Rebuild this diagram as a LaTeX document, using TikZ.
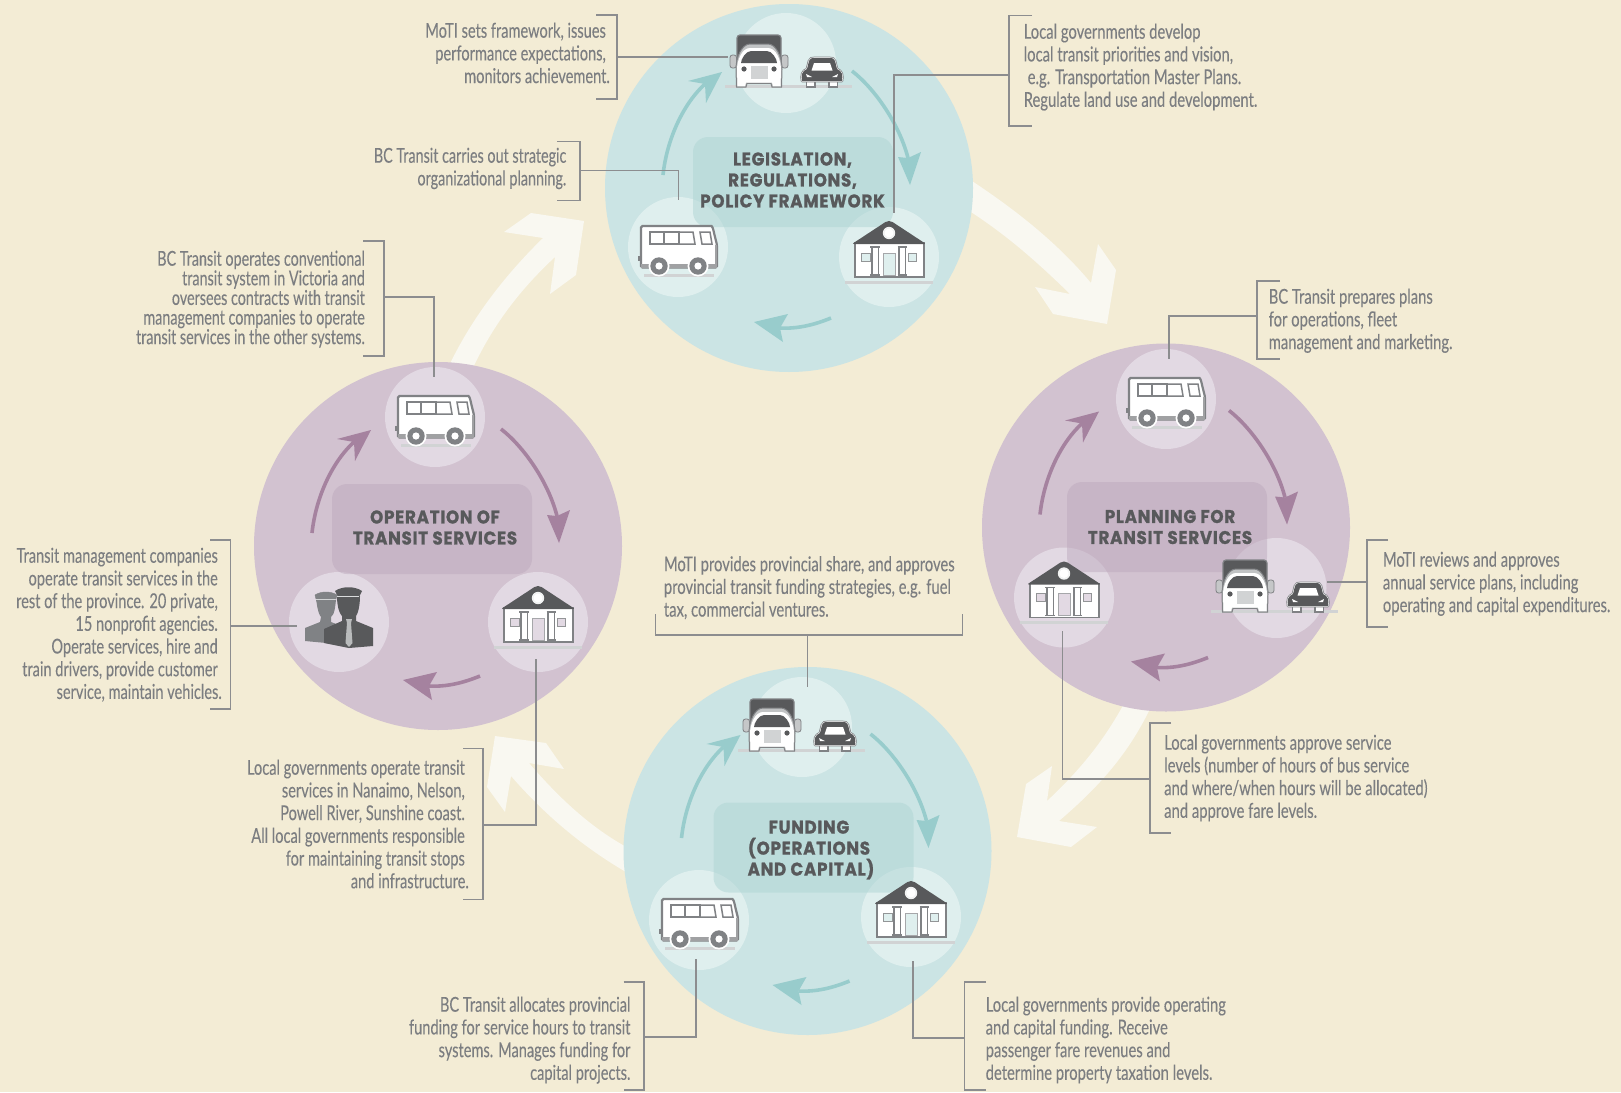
\documentclass[tikz,border=0pt]{standalone}
\usepackage{fontspec}
\setmainfont[FakeStretch=0.722,FakeBold=0.12]{Lato}
\newfontfamily\nrwa[FakeStretch=0.712,FakeBold=0.12]{Lato}
\newfontfamily\nrwb[FakeStretch=0.70,FakeBold=0.12]{Lato}
\newfontfamily\ttlfont[LetterSpace=4,FakeStretch=0.91,BoldFeatures={FakeBold=1.1}]{Poppins}
\definecolor{bg}{HTML}{F3ECD5}
\definecolor{wht}{HTML}{F9F8F1}
\definecolor{tealB}{HTML}{CBE4E4}
\definecolor{tealS}{HTML}{DFEFEE}
\definecolor{tealX}{HTML}{AFD5D4}
\definecolor{tealA}{HTML}{98CCCC}
\definecolor{purB}{HTML}{D2C2D0}
\definecolor{purS}{HTML}{E2D9E3}
\definecolor{purX}{HTML}{BEAABE}
\definecolor{purA}{HTML}{A5829F}
\definecolor{ink}{HTML}{58595B}
\definecolor{mid}{HTML}{808285}
\definecolor{pale}{HTML}{D1D3D4}
\definecolor{txtc}{HTML}{7C7E81}
\definecolor{linec}{HTML}{8C8D8F}
\tikzset{
  x=1pt,y=-1pt,
  big/.style={circle,inner sep=0,minimum size=368pt,fill=#1},
  small/.style={circle,inner sep=0,minimum size=100pt,fill=#1},
  box/.style={rectangle,rounded corners=15pt,inner sep=0,minimum width=200pt,minimum height=90pt,fill=#1,fill opacity=.5},
  ttl/.style={inner sep=0,align=center,text=ink,font=\ttlfont\bfseries\fontsize{18.4}{21}\selectfont},
  rtxt/.style={inner sep=0,anchor=north east,align=right,text=txtc,font=\nrwa\fontsize{20.5}{22.7}\selectfont},
  ltxt/.style={inner sep=0,anchor=north west,align=left,text=txtc,font=\fontsize{20.5}{22.7}\selectfont},
  leader/.style={draw=linec,line width=1.3pt},
  bigarrow/.style={fill=wht},
  pics/cyc/.style={code={
    \draw[line width=3.6pt,draw=#1] (-126,-13) .. controls (-122,-50) and (-105,-85) .. (-84,-104);
    \fill[#1] (-67,-116) -- (-101,-107) -- (-84,-104) -- (-83,-85) -- cycle;
    \draw[line width=3.6pt,draw=#1] (63,-117) .. controls (85,-100) and (110,-65) .. (119,-30);
    \fill[#1] (121,-3) -- (109,-31) -- (119,-30) -- (132,-36) -- cycle;
    \draw[line width=3.6pt,draw=#1] (42,130) .. controls (25,137) and (8,141) .. (-9,140);
    \fill[#1] (-35,134) -- (-1,126) -- (-9,140) -- (-6,154) -- cycle;
  }},
  pics/truck/.style={code={
    \fill[pale] (-34,22) rectangle (93,24.5);
    \filldraw[fill=ink,draw=mid,line width=1.2pt,rounded corners=3pt] (-22,-28) rectangle (22,4);
    \filldraw[fill=pale!85!mid,draw=mid,line width=.8pt,rounded corners=2.5pt] (-29,-8) rectangle (-22.5,5);
    \filldraw[fill=pale!85!mid,draw=mid,line width=.8pt,rounded corners=2.5pt] (22.5,-8) rectangle (29,5);
    \filldraw[fill=pale!80!mid,draw=mid,line width=1pt] (-22.5,24) -- (-23,6) .. controls (-23,-6) and (-17,-19) .. (-9,-19) -- (9,-19) .. controls (17,-19) and (23,-6) .. (23,6) -- (22.5,24) -- (13,24) -- (12,20.5) -- (-12,20.5) -- (-13,24) -- cycle;
    \fill[white] (-21.5,23) -- (-22,7) .. controls (-22,-3) and (-17,-15) .. (-9,-15) -- (9,-15) .. controls (17,-15) and (22,-3) .. (22,7) -- (21.5,23) -- (14,23) -- (13,19.5) -- (-13,19.5) -- (-14,23) -- cycle;
    \fill[ink] (-18,0) .. controls (-18,-4) and (-13,-12) .. (-8,-12) -- (8,-12) .. controls (13,-12) and (18,-4) .. (18,0) -- cycle;
    \fill[ink] (-15,6) circle (2.6) (15,6) circle (2.6);
    \fill[pale] (-8.5,3) rectangle (8.5,15.5);
    \begin{scope}[shift={(63,0)}]
      \filldraw[fill=white,draw=mid,line width=1.4pt] (-15.5,16) rectangle (-7,24);
      \filldraw[fill=white,draw=mid,line width=1.4pt] (7,16) rectangle (15.5,24);
      \def\carpath{(-20,18) .. controls (-21,12) and (-20,8) .. (-15,6) -- (-13,-2) .. controls (-12,-5) and (-10,-5) .. (-8,-5) -- (8,-5) .. controls (10,-5) and (12,-5) .. (13,-2) -- (15,6) .. controls (20,8) and (21,12) .. (20,18) -- cycle}
      \draw[mid,line width=2.6pt,line join=round] \carpath;
      \draw[white,line width=1.1pt,line join=round] \carpath;
      \fill[ink] \carpath;
      \fill[white] (-10.5,7.5) -- (-8,0) -- (8,0) -- (10.5,7.5) -- cycle;
      \fill[white] (-16,11) -- (-10,14) -- (-15,14) -- cycle (16,11) -- (10,14) -- (15,14) -- cycle;
    \end{scope}
  }},
  pics/house/.style={code={
    \fill[pale] (-44,23.5) rectangle (44,26.5);
    \filldraw[fill=white,draw=mid,line width=1.3pt] (-34,-14) rectangle (35,20);
    \fill[ink,rounded corners=2pt] (-37,-13) -- (-2,-36) -- (2,-36) -- (37,-13) -- cycle;
    \fill[white!70!pale] (0,-24) circle (6.2);
    \fill[white] (0,-24) circle (4.5);
    \filldraw[fill=#1,draw=mid!85,line width=1pt] (-28,-4) rectangle (-19,4);
    \filldraw[fill=#1,draw=mid!85,line width=1pt] (19,-4) rectangle (27.5,4);
    \filldraw[fill=white,draw=mid,line width=1.1pt] (-17,-10) rectangle (-10.5,18);
    \filldraw[fill=white,draw=mid,line width=1.1pt] (10,-10) rectangle (16.5,18);
    \draw[mid,line width=1.1pt] (-19,-10) -- (-9,-10) (-19,18) -- (-9,18) (8.5,-10) -- (18,-10) (8.5,18) -- (18,18);
    \filldraw[fill=#1,draw=mid!70,line width=1pt] (-6,-4) rectangle (6,18);
  }},
  pics/bus/.style={code={
    \fill[pale] (-33,27) rectangle (37,29.5);
    \fill[mid] (-39,9) rectangle (-36,14);
    \filldraw[fill=white,draw=mid,line width=2.2pt,rounded corners=1.5pt] (-36,-21) -- (33,-21) .. controls (35,-21) and (36,-19) .. (37,-14) -- (40,-2) -- (40,20.5) -- (-36,20.5) -- cycle;
    \fill[mid!75] (-36,17) rectangle (40,20.5);
    \fill[mid!75] (38,-2) rectangle (40,20);
    \filldraw[fill=white,draw=mid,line width=1.5pt] (-27,-15) rectangle (-13,-3);
    \filldraw[fill=white,draw=mid,line width=1.5pt] (-13,-15) rectangle (2,-3);
    \filldraw[fill=white,draw=mid,line width=1.5pt] (2,-15) -- (16,-15) -- (18,-3) -- (2,-3) -- cycle;
    \filldraw[fill=white,draw=mid,line width=1.5pt] (23,-15) -- (33,-15) -- (35,-3) -- (25,-3) -- cycle;
    \fill[white] (-18,19) circle (10.5) (21,19) circle (10.5);
    \fill[mid] (-18,19) circle (8.7) (21,19) circle (8.7);
    \fill[white] (-18,19) circle (3.6) (21,19) circle (3.6);
  }},
  pics/drivers/.style={code={
    \fill[mid] (-34,19) -- (-34,6) -- (-19,0) -- (-18,-5) .. controls (-22,-10) and (-22,-20) .. (-23,-22) -- (-3,-22) .. controls (-4,-15) and (-4,-8) .. (-8,-5) -- (-8,0) -- (0,3) -- (-2,22) -- cycle;
    \filldraw[mid] (-24,-27) .. controls (-18,-31) and (-8,-31) .. (-2,-27) -- (-3,-23) -- (-23,-23) -- cycle;
    \draw[pale,line width=.8pt] (-23,-23) -- (-4,-23);
    \fill[ink] (-15,21) -- (-15,7) -- (3,-1) -- (3,-6) .. controls (-1,-10) and (-2,-20) .. (-2,-26) -- (21,-26) .. controls (21,-20) and (20,-10) .. (17,-6) -- (17,-1) -- (34,6) -- (34,24) -- (10,26) -- cycle;
    \fill[ink] (-4,-31) .. controls (3,-36) and (16,-36) .. (23,-31) -- (20,-25) -- (-1,-25) -- cycle;
    \draw[pale!80!white,line width=1pt] (-2,-25.5) -- (20,-25.5);
    \fill[pale!70!mid] (7,-3) -- (13,-3) -- (12,1) -- (13.5,21) -- (10,25) -- (6.5,21) -- (8,1) -- cycle;
  }}
}
\newcommand\fs{\rule{0pt}{15.5pt}}
\begin{document}
\begin{tikzpicture}
\fill[bg] (0,0) rectangle (1621,1092);
\useasboundingbox (0,0) rectangle (1621,1092);

% big white cycle arrows
\fill[bigarrow] (955,170) .. controls (1010,205) and (1055,240) .. (1091,283) -- (1098,244) -- (1116,270) -- (1107,324) -- (1053,314) -- (1035,287) -- (1070,294) .. controls (1030,255) and (1000,230) .. (960,205) -- cycle;
\fill[bigarrow] (1155,698) .. controls (1130,755) and (1095,790) .. (1059,821) -- (1097,827) -- (1071,847) -- (1017,837) -- (1026,784) -- (1052,766) -- (1047,801) .. controls (1080,770) and (1105,740) .. (1127,698) -- cycle;
\fill[bigarrow] (640,854) .. controls (600,835) and (565,805) .. (529,763) -- (564,769) -- (546,743) -- (495,736) -- (487,787) -- (505,812) -- (511,776) .. controls (545,815) and (585,850) .. (640,880) -- cycle;
\fill[bigarrow] (447,370) .. controls (470,320) and (505,275) .. (543,238) -- (504,232) -- (531,213) -- (584,221) -- (576,275) -- (550,294) -- (555,257) .. controls (525,285) and (495,320) .. (472,370) -- cycle;

% big circles
\node[big=tealB] (topC) at (789,188) {};
\node[big=purB] (rightC) at (1166,527.5) {};
\node[big=tealB] (botC) at (807.5,851) {};
\node[big=purB] (leftC) at (438,546) {};

% small circles
\node[small=tealS] (topT) at (786,63) {};
\node[small=tealS] (topB) at (678,247) {};
\node[small=tealS] (topH) at (889,257) {};
\node[small=purS] (rightB) at (1166,399) {};
\node[small=purS] (rightH) at (1064,597.5) {};
\node[small=purS] (rightT) at (1276.5,588) {};
\node[small=tealS] (botT) at (802,727) {};
\node[small=tealS] (botB) at (699,920) {};
\node[small=tealS] (botH) at (911,917) {};
\node[small=purS] (leftB) at (435,417) {};
\node[small=purS] (leftH) at (538,622) {};
\node[small=purS] (leftD) at (339,622) {};

% centre boxes
\node[box=tealX] (topX) at (793,182) {};
\node[box=purX] (rightX) at (1167,527) {};
\node[box=tealX] (botX) at (813.5,847.5) {};
\node[box=purX] (leftX) at (432,529) {};

% icons
\pic at (759,63) {truck};
\pic at (677,247) {bus};
\pic at (889,257) {house=tealS};
\pic at (1165,399) {bus};
\pic at (1064,597.5) {house=purS};
\pic at (1245,588) {truck};
\pic at (772,727) {truck};
\pic at (698,920) {bus};
\pic at (911,917) {house=tealS};
\pic at (434,417) {bus};
\pic at (538,622) {house=purS};
\pic at (339,622) {drivers};

% small arrows
\pic at (789,188) {cyc=tealA};
\pic at (1166,527.5) {cyc=purA};
\pic at (807.5,851) {cyc=tealA};
\pic at (438,546) {cyc=purA};

% titles
\node[ttl] (topL) at (792.5,180) {LEGISLATION,\\REGULATIONS,\\POLICY FRAMEWORK};
\node[ttl] (rightL) at (1170,527) {PLANNING FOR\\TRANSIT SERVICES};
\node[ttl] (botL) at (809,850) {FUNDING\\(OPERATIONS\\\hspace*{4pt}AND CAPITAL)};
\node[ttl] (leftL) at (435,527.5) {OPERATION OF\\TRANSIT SERVICES};

% leader ends
\coordinate (a1) at (617,57);     \coordinate (b1) at (728,57);
\coordinate (a2) at (580,170.7);  \coordinate (b2) at (678.7,200);
\coordinate (a3) at (1009,75);    \coordinate (b3) at (894,212.7);
\coordinate (a4) at (1257,316);   \coordinate (b4) at (1169,359);
\coordinate (a5) at (1367,582);   \coordinate (b5) at (1327,582);
\coordinate (a6) at (1150,779);   \coordinate (b6) at (1062.7,630.6);
\coordinate (a7) at (807.5,635);  \coordinate (b7) at (807.5,686.5);
\coordinate (a8) at (964.5,1038); \coordinate (b8) at (913,961);
\coordinate (a9) at (644,1037);   \coordinate (b9) at (696,959);
\coordinate (a10) at (483,825);   \coordinate (b10) at (536,659);
\coordinate (a11) at (230.5,626); \coordinate (b11) at (297,626);
\coordinate (a12) at (384,297);   \coordinate (b12) at (434,377);

\draw[leader] (a1) -- (b1);
\draw[leader] (a2) -| (b2);
\draw[leader] (a3) -| (b3);
\draw[leader] (a4) -| (b4);
\draw[leader] (a5) -- (b5);
\draw[leader] (a6) -| (b6);
\draw[leader] (a7) -- (b7);
\draw[leader] (a8) -| (b8);
\draw[leader] (a9) -| (b9);
\draw[leader] (a10) -| (b10);
\draw[leader] (a11) -- (b11);
\draw[leader] (a12) -| (b12);

% brackets
\draw[leader] (596,15) -- (617,15) -- (617,99) -- (596,99);
\draw[leader] (557,141.6) -- (580,141.6) -- (580,200.5) -- (557,200.5);
\draw[leader] (1032,15.5) -- (1009,15.5) -- (1009,126) -- (1032,126);
\draw[leader] (1280,281) -- (1257,281) -- (1257,359) -- (1280,359);
\draw[leader] (1388,540) -- (1367,540) -- (1367,627) -- (1388,627);
\draw[leader] (1171,723) -- (1150,723) -- (1150,833) -- (1171,833);
\draw[leader] (655.5,614) -- (655.5,635) -- (962.5,635) -- (962.5,614);
\draw[leader] (986,982) -- (964.5,982) -- (964.5,1090) -- (986,1090);
\draw[leader] (623.5,982) -- (644,982) -- (644,1090) -- (623.5,1090);
\draw[leader] (463,748.5) -- (483,748.5) -- (483,899.5) -- (463,899.5);
\draw[leader] (210,540) -- (230.5,540) -- (230.5,709) -- (210,709);
\draw[leader] (363,241) -- (384,241) -- (384,356) -- (363,356);

% texts
\node[rtxt] (t1) at (606,22) {\fs MoTI sets framework, issues\\performance expectations,\\monitors achievement.\hspace*{-4pt}};
\node[rtxt,font=\nrwb\fontsize{20.5}{22.7}\selectfont] (t2) at (566.5,147) {\fs BC Transit carries out strategic\\organizational planning.};
\node[ltxt] (t3) at (1023.5,23) {\fs Local governments develop\\local transit priorities and vision,\\\hspace*{4pt}e.g. Transportation Master Plans.\\Regulate land use and development.};
\node[ltxt] (t4) at (1268.5,288) {\fs BC Transit prepares plans\\for operations, fleet\\management and marketing.};
\node[ltxt] (t5) at (1382.7,551) {\fs MoTI reviews and approves\\annual service plans, including\\operating and capital expenditures.};
\node[ltxt] (t6) at (1164,734) {\fs Local governments approve service\\levels (number of hours of bus service\\and where/when hours will be allocated)\\and approve fare levels.};
\node[ltxt] (t7) at (663.7,555.5) {\fs MoTI provides provincial share, and approves\\provincial transit funding strategies, e.g. fuel\\tax, commercial ventures.};
\node[ltxt] (t8) at (985.5,996) {\fs Local governments provide operating\\and capital funding. Receive\\passenger fare revenues and\\determine property taxation levels.};
\node[rtxt] (t9) at (630.6,996) {\fs BC Transit allocates provincial\\funding for service hours to transit\\systems. Manages funding for\\capital projects.};
\node[rtxt] (t10) at (465,759) {\fs Local governments operate transit\\services in Nanaimo, Nelson,\\Powell River, Sunshine coast.\\All local governments responsible\\for maintaining transit stops\\and infrastructure.\hspace*{-4pt}};
\node[rtxt] (t11) at (218,547) {\fs Transit management companies\\operate transit services in the\\rest of the province. 20 private,\\15 nonprofit agencies.\\Operate services, hire and\\train drivers, provide customer\hspace*{-4pt}\\service, maintain vehicles.\hspace*{-4pt}};
\node[rtxt,font=\nrwb\fontsize{20.5}{19.6}\selectfont] (t12) at (365,250) {\fs BC Transit operates conventional\\transit system in Victoria and\\oversees contracts with transit\\management companies to operate\\transit services in the other systems.};
\end{tikzpicture}
\end{document}
